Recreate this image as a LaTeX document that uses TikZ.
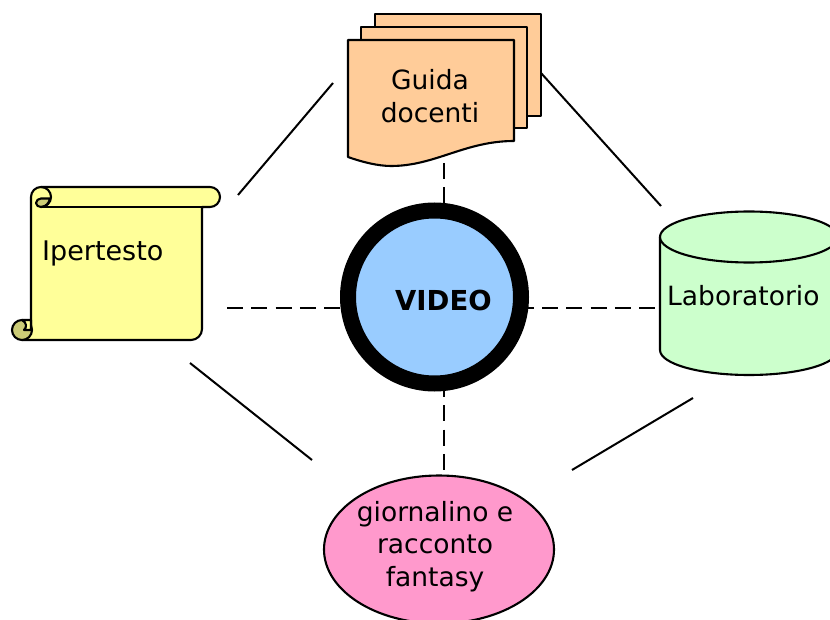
\documentclass[tikz,border=0pt]{standalone}
\usepackage{fontspec}
\setmainfont{DejaVu Sans}
\tikzset{
  shapeline/.style={draw=black,line width=2.1pt,line join=round},
  label/.style={font=\fontsize{26.5}{32.5}\selectfont,align=center,inner sep=0pt,text=black},
  link/.style={draw=black,line width=2pt},
  dashlink/.style={link,dash pattern=on 16pt off 8.3pt},
}
\definecolor{docfill}{HTML}{FFCC99}
\definecolor{scrollfill}{HTML}{FFFF99}
\definecolor{curlfill}{HTML}{CCCC77}
\definecolor{cylfill}{HTML}{CCFFCC}
\definecolor{ellfill}{HTML}{FF99CC}
\definecolor{hubfill}{HTML}{99CCFF}
\begin{document}
\begin{tikzpicture}[x=1pt,y=-1pt]
\useasboundingbox (0,0) rectangle (830,620);
\clip (0,0) rectangle (830,620);
\fill[white] (0,0) rectangle (830,620);

% connectors
\coordinate (s1) at (238,195); \coordinate (d1) at (333,83);
\coordinate (d2) at (541,73);  \coordinate (c1) at (661,206);
\coordinate (s2) at (190,363); \coordinate (e1) at (312,460);
\coordinate (c2) at (693,398); \coordinate (e2) at (572,470);
\coordinate (hl) at (340,308); \coordinate (sr) at (227,308);
\coordinate (hr) at (517.7,308); \coordinate (cl) at (657,308);
\coordinate (ht) at (444,205); \coordinate (db) at (444,163);
\coordinate (hb) at (444,381); \coordinate (et) at (444,470);
\draw[link] (s1) -- (d1);
\draw[link] (d2) -- (c1);
\draw[link] (s2) -- (e1);
\draw[link] (c2) -- (e2);
\draw[dashlink] (sr) -- (hl);
\draw[dashlink] (hr) -- (cl);
\draw[dashlink] (db) -- (ht);
\draw[dashlink] (hb) -- (et);

% document stack
\filldraw[shapeline,fill=docfill] (375,14) -- (541,14) -- (541,116) -- (375,116) -- cycle;
\filldraw[shapeline,fill=docfill] (361,27) -- (527,27) -- (527,128) -- (361,128) -- cycle;
\filldraw[shapeline,fill=docfill] (348,40) -- (514,40) -- (514,141)
  .. controls (465,141) and (435,166) .. (391,166)
  .. controls (378,166) and (362,162) .. (348,157) -- cycle;
\node[label] (guida) at (430,96) {Guida\\docenti};

% scroll body and top roll
\filldraw[shapeline,fill=scrollfill] (31,197) .. controls (31,191.5) and (35.5,187) .. (41,187)
  -- (210,187) .. controls (215.5,187) and (220,191.5) .. (220,197)
  .. controls (220,202.5) and (215.5,207) .. (210,207) -- (202,207) -- (202,329)
  .. controls (202,335) and (197,340) .. (191,340) -- (22,340) -- (31,330) -- cycle;
\draw[shapeline] (210,207) -- (41,207);
\filldraw[shapeline,fill=curlfill] (36,203) .. controls (36,200.5) and (38.5,198.5) .. (41,198.5)
  -- (50,198.5) .. controls (49,203.5) and (45.5,207) .. (41,207)
  .. controls (38.5,207) and (36,205.5) .. (36,203) -- cycle;
\draw[shapeline] (41,187) .. controls (46.5,187) and (51,191.5) .. (51,197)
  .. controls (51,202.5) and (46.5,207) .. (41,207);

% bottom roll
\filldraw[shapeline,fill=curlfill] (22,330) circle[radius=10];
\filldraw[shapeline,fill=scrollfill] (22,320) -- (31,320) -- (31,330) -- (24,330)
  .. controls (27,327) and (27,323) .. (22,320) -- cycle;
\node[label,font=\fontsize{27}{32.5}\selectfont,anchor=west] (ipertesto) at (42,253) {Ipertesto};

% cylinder
\filldraw[shapeline,fill=cylfill] (660,237) -- (660,350)
  .. controls (660,364) and (700,375) .. (749,375)
  .. controls (798,375) and (838,364) .. (838,350) -- (838,237) -- cycle;
\filldraw[shapeline,fill=cylfill] (749,237) ellipse[x radius=89,y radius=25.5];
\node[label,anchor=west] (lab) at (667,296) {Laboratorio};

% ellipse
\filldraw[shapeline,fill=ellfill] (439,549.5) ellipse[x radius=115,y radius=74];
\node[label] (gio) at (435,546.5) {giornalino e\\racconto\\fantasy};

% hub
\filldraw[draw=black,line width=16pt,fill=hubfill] (434.5,297) circle[radius=86.5];
\node[label,font=\fontsize{27.5}{32}\selectfont\bfseries,anchor=west] (video) at (395,300) {VIDEO};
\end{tikzpicture}
\end{document}
